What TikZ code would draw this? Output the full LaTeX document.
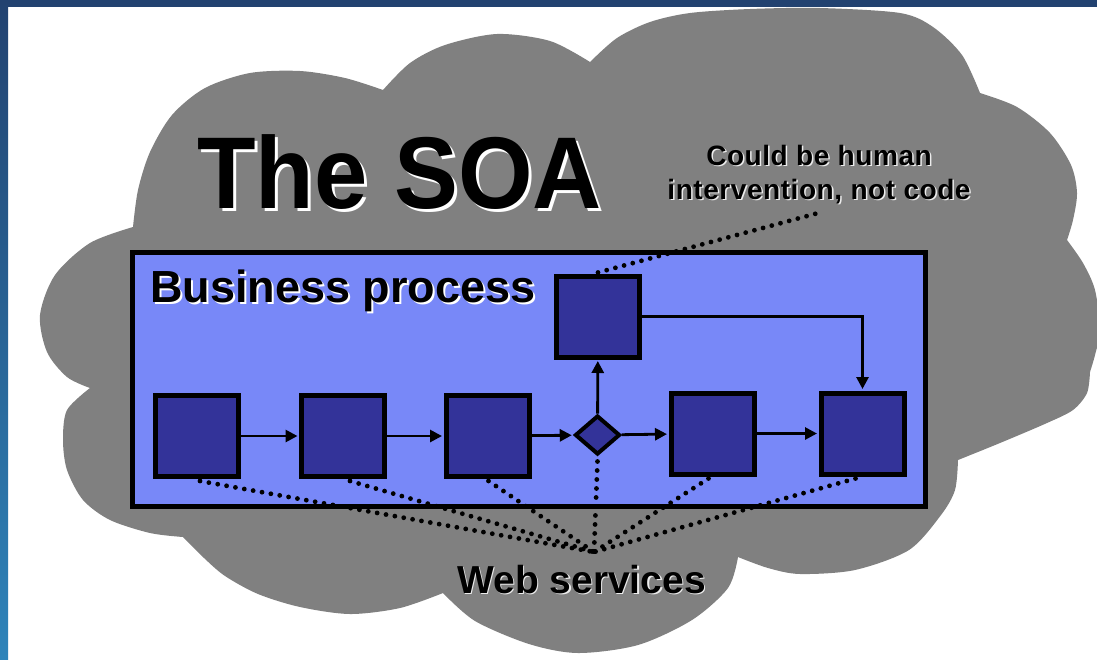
\documentclass[tikz,border=0pt]{standalone}
\usepackage{fontspec}
\usepackage{graphicx}
\setmainfont{Liberation Sans}
\newfontfamily\notefont[LetterSpace=2]{Liberation Sans}
\usetikzlibrary{arrows.meta,shapes.geometric}
\definecolor{cloudgray}{RGB}{128,128,128}
\definecolor{procblue}{RGB}{120,136,248}
\definecolor{stepblue}{RGB}{51,51,153}
\definecolor{framenavy}{RGB}{34,66,112}
\definecolor{framelight}{RGB}{46,132,186}
% text with a light drop shadow offset down and to the right
\newcommand{\softshadow}[3]{\leavevmode\rlap{\kern#1\raisebox{-#1}{\textcolor{#2}{#3}}}#3}
\begin{document}
\begin{tikzpicture}[x=1pt,y=-1pt,
  stepbox/.style={draw=black, line width=5pt, fill=stepblue, inner sep=0pt,
    minimum width=83pt, minimum height=81pt},
  gate/.style={diamond, draw=black, line width=4pt, fill=stepblue, inner sep=0pt,
    minimum width=45pt, minimum height=39pt},
  flow/.style={line width=2.8pt, shorten >=1.5pt, -{Triangle[length=12pt,width=12pt]}},
  dots/.style={line width=4.8pt, line cap=round, dash pattern=on 0pt off 9pt},
  lbl/.style={inner sep=0pt, anchor=base west},
]
\useasboundingbox (0,0) rectangle (1097,659);
\clip (0,0) rectangle (1097,659);
\fill[white] (0,0) rectangle (1097,659);

% cloud
\fill[cloudgray]
  plot[smooth] coordinates {(133,227) (138,190) (150,152) (172,115) (205,88) (250,73) (300,71) (345,78) (383,90)}
  -- plot[smooth] coordinates {(383,90) (410,63) (445,45) (497,34) (550,41) (590,62)}
  -- plot[smooth] coordinates {(590,62) (617,38) (650,22) (690,13) (750,9) (820,8) (900,13) (933,27) (962,55) (980,93)}
  -- plot[smooth] coordinates {(980,93) (1017,107) (1050,133) (1071,165) (1077,193) (1073,220) (1067,240)}
  -- plot[smooth] coordinates {(1067,240) (1083,263) (1095,290) (1100,330) (1095,355) (1090,372)}
  -- plot[smooth] coordinates {(1090,372) (1087,393) (1073,410) (1047,423) (1000,443) (958,460)}
  -- plot[smooth] coordinates {(958,460) (955,490) (941,515) (909,550) (855,570) (800,574) (768,568) (738,557)}
  -- plot[smooth] coordinates {(738,557) (728,588) (692,620) (638,645) (578,653) (529,644) (475,621) (443,593)}
  -- plot[smooth] coordinates {(443,593) (400,608) (350,614) (300,607) (258,594) (225,576) (204,558) (183,537)}
  -- plot[smooth] coordinates {(183,537) (150,533) (110,520) (83,500) (67,470) (63,440) (67,410) (90,388)}
  -- plot[smooth] coordinates {(90,388) (67,377) (47,352) (40,315) (55,275) (90,243) (133,227)}
  -- cycle;

% business process frame
\draw[line width=5pt, fill=procblue] (132.5,252.5) rectangle (925.5,506.5);

% titles
\node[lbl] (title) at (197,208) {\scalebox{0.94}[1]{\fontsize{102}{102}\selectfont\bfseries\softshadow{3pt}{white}{The SOA}}};
\node[lbl] (bp) at (150,302) {\fontsize{45}{45}\selectfont\bfseries\softshadow{2pt}{white}{Business process}};

% process steps
\node[stepbox] (s1) at (197,436) {};
\node[stepbox] (s2) at (343,436) {};
\node[stepbox] (s3) at (487.5,436) {};
\node[gate] (d) at (597.5,435) {};
\node[stepbox] (s5) at (712.5,433.5) {};
\node[stepbox] (s6) at (862.5,433.5) {};
\node[stepbox] (t) at (598,316.5) {};

\draw[flow] (s1) -- (s2);
\draw[flow] (s2) -- (s3);
\draw[flow] (s3) -- (d);
\draw[flow] (d) -- (s5);
\draw[flow] (s5) -- (s6);
\draw[flow] (d) -- (t);
\draw[flow] (t.east) -| (s6.north);

% annotations
\node[anchor=base, inner sep=0pt] (note1) at (819,165) {\notefont\fontsize{28}{28}\selectfont\bfseries\softshadow{1.5pt}{white!85!gray}{Could be human}};
\node[anchor=base, inner sep=0pt] (note2) at (819,199) {\notefont\fontsize{28}{28}\selectfont\bfseries\softshadow{1.5pt}{white!85!gray}{intervention, not code}};
\coordinate (notefoot) at (822,212);
\draw[dots] ([yshift=1pt]t.north) -- (notefoot);

\node[lbl] (ws) at (457,593) {\fontsize{39}{39}\selectfont\bfseries\softshadow{1.5pt}{white!85!gray}{Web services}};
\coordinate (hub) at (594,552);
\draw[dots] ([xshift=3pt,yshift=-2pt]s1.south) -- (hub);
\draw[dots] ([xshift=7pt,yshift=-2pt]s2.south) -- (hub);
\draw[dots] ([xshift=1pt,yshift=-2pt]s3.south) -- (hub);
\draw[dots] ([yshift=-5pt]d.south) -- (hub);
\draw[dots] ([xshift=-4pt,yshift=-2pt]s5.south) -- (hub);
\draw[dots] ([xshift=-7pt,yshift=-2pt]s6.south) -- (hub);

% slide frame
\fill[framenavy] (0,0) rectangle (1097,7);
\shade[top color=framenavy, bottom color=framelight] (0,0) rectangle (8,659);
\end{tikzpicture}
\end{document}
